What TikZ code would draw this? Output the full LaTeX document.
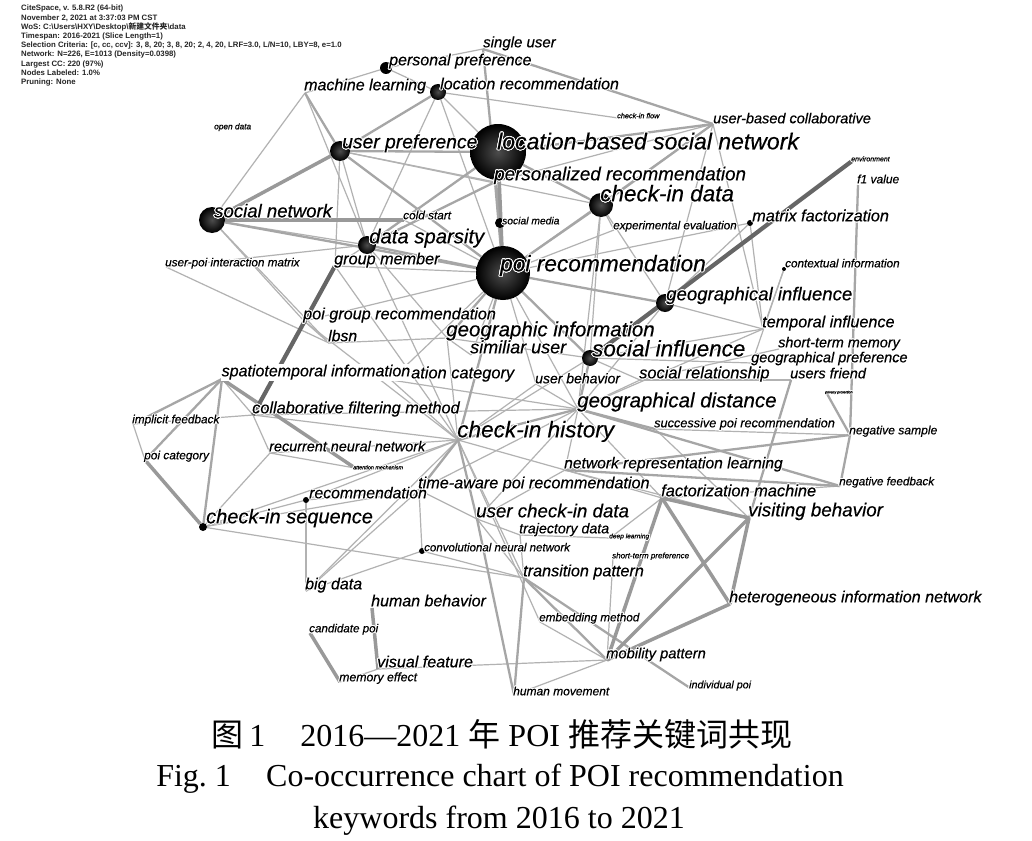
\documentclass[tikz,border=0pt]{standalone}
\usepackage{fontspec}
\setmainfont{Liberation Serif}
\newfontfamily\kwfont{Liberation Sans}[ItalicFeatures={FakeBold=0.4}]
\newfontfamily\cjk{Noto Sans CJK SC}
\usepackage[copies]{contour}
\contourlength{0.9pt}
\usetikzlibrary{backgrounds}
\newcommand{\halo}[1]{\contour{white}{#1}}

\tikzset{
  kw/.style={font=\kwfont\itshape\fontsize{#1}{#1}\selectfont, anchor=mid west, inner sep=0pt, text=black},
  kw/.default=16,
  dot/.style={circle, fill=black, minimum size=#1, inner sep=0pt},
  big/.style={circle, inner color=black!70, outer color=black, minimum size=#1, inner sep=0pt},
  lk/.style={draw=black!30, line width=1.2pt},
  lkm/.style={draw=black!35, line width=2.3pt},
  lkt/.style={draw=black!40, line width=3.5pt},
  lkd/.style={draw=black!60, line width=4.2pt},
  hdr/.style={font=\kwfont\bfseries\fontsize{7.8}{9.2}\selectfont, align=left, inner sep=0pt, text=black!85},
  captxt/.style={font=\fontsize{32}{32}\selectfont, inner sep=0pt}
}

\begin{document}
\begin{tikzpicture}[x=1pt, y=-1pt]
  \useasboundingbox (0,0) rectangle (1032,840);

  % header of the map
  \node[hdr, anchor=north west] (hdr) at (21,5) {CiteSpace, v. 5.8.R2 (64-bit)\\
    November 2, 2021 at 3:37:03 PM CST\\
    WoS: C:\textbackslash Users\textbackslash HXY\textbackslash Desktop\textbackslash{\cjk 新建文件夹}\textbackslash data\\
    Timespan: 2016-2021 (Slice Length=1)\\
    Selection Criteria: [c, cc, ccv]: 3, 8, 20; 3, 8, 20; 2, 4, 20, LRF=3.0, L/N=10, LBY=8, e=1.0\\
    Network: N=226, E=1013 (Density=0.0398)\\
    Largest CC: 220 (97\%)\\
    Nodes Labeled: 1.0\%\\
    Pruning: None};

  % keyword circles
  \node[big=56pt] (lbsn) at (498,152) {};
  \node[big=54pt] (poi) at (503,273) {};
  \node[big=24pt] (cid) at (601,205) {};
  \node[big=26pt] (sn) at (212,220) {};
  \node[big=20pt] (upref) at (340,151) {};
  \node[big=18pt] (ds) at (367,245) {};
  \node[big=18pt] (gi) at (665,303) {};
  \node[big=16pt] (si) at (590,358) {};
  \node[big=16pt] (locrec) at (438,92) {};
  \node[dot=12pt] (pers) at (386,68) {};
  \node[dot=10pt] (smed) at (500,223) {};
  \node[dot=8pt] (cis) at (203,527) {};
  \node[dot=6pt] (rec) at (306,500) {};
  \node[dot=6pt] (cnn) at (422,551) {};
  \node[dot=6pt] (mf) at (750,223) {};
  \node[dot=4pt] (ctx) at (784,269) {};

  % keywords without visible circle
  \coordinate (sgl) at (483,49);
  \coordinate (ml) at (305,93);
  \coordinate (flow) at (618,118);
  \coordinate (ubc) at (713,124);
  \coordinate (open) at (215,130);
  \coordinate (env) at (852,161);
  \coordinate (prec) at (495,182);
  \coordinate (f1) at (858,185);
  \coordinate (cold) at (404,220);
  \coordinate (eval) at (614,230);
  \coordinate (gm) at (335,266);
  \coordinate (uim) at (166,267);
  \coordinate (pgr) at (304,321);
  \coordinate (ti) at (763,329);
  \coordinate (ginfo) at (447,338);
  \coordinate (lbsnk) at (329,343);
  \coordinate (stm) at (779,349);
  \coordinate (simu) at (471,355);
  \coordinate (gpref) at (752,363);
  \coordinate (sti) at (222,379);
  \coordinate (lcat) at (391,380);
  \coordinate (ub) at (536,384);
  \coordinate (srel) at (640,380);
  \coordinate (uf) at (791,380);
  \coordinate (prv) at (826,392);
  \coordinate (gd) at (578,409);
  \coordinate (cfm) at (253,415);
  \coordinate (impf) at (133,424);
  \coordinate (spr) at (655,429);
  \coordinate (negs) at (850,435);
  \coordinate (cih) at (458,440);
  \coordinate (rnn) at (270,453);
  \coordinate (pcat) at (145,460);
  \coordinate (att) at (355,468);
  \coordinate (nrl) at (565,470);
  \coordinate (negf) at (840,486);
  \coordinate (taw) at (419,490);
  \coordinate (fm) at (662,498);
  \coordinate (ucid) at (477,519);
  \coordinate (vb) at (749,518);
  \coordinate (traj) at (520,535);
  \coordinate (dl) at (610,538);
  \coordinate (stp) at (613,558);
  \coordinate (tp) at (524,578);
  \coordinate (bd) at (306,591);
  \coordinate (hin) at (730,604);
  \coordinate (hb) at (372,608);
  \coordinate (emb) at (540,622);
  \coordinate (cand) at (310,633);
  \coordinate (mob) at (607,660);
  \coordinate (vf) at (378,669);
  \coordinate (mem) at (340,682);
  \coordinate (ipoi) at (690,688);
  \coordinate (hm) at (514,695);

  % labels
  \node[kw=15] (sgl-t) at (483,45) {\halo{single user}};
  \node[kw=16] (pers-t) at (389,63) {\halo{personal preference}};
  \node[kw=16] (ml-t) at (304,88) {\halo{machine learning}};
  \node[kw=16] (locrec-t) at (440,87) {\halo{location recommendation}};
  \node[kw=7.3] (flow-t) at (617,116) {\halo{check-in flow}};
  \node[kw=14.5] (ubc-t) at (713,121) {\halo{user-based collaborative}};
  \node[kw=8.3] (open-t) at (214,127) {\halo{open data}};
  \node[kw=19.3] (upref-t) at (342,146) {\halo{user preference}};
  \node[kw=23] (lbsn-t) at (497,147) {\halo{location-based social network}};
  \node[kw=7] (env-t) at (851,159) {\halo{environment}};
  \node[kw=18.8] (prec-t) at (494,178) {\halo{personalized recommendation}};
  \node[kw=12] (f1-t) at (857,181) {\halo{f1 value}};
  \node[kw=22.5] (cid-t) at (600,199) {\halo{check-in data}};
  \node[kw=18.6] (sn-t) at (214,215) {\halo{social network}};
  \node[kw=11.8] (cold-t) at (403,217) {\halo{cold start}};
  \node[kw=10.3] (smed-t) at (502,222) {\halo{social media}};
  \node[kw=16.3] (mf-t) at (752,219) {\halo{matrix factorization}};
  \node[kw=11.7] (eval-t) at (613,227) {\halo{experimental evaluation}};
  \node[kw=20.3] (ds-t) at (369,241) {\halo{data sparsity}};
  \node[kw=16.2] (gm-t) at (334,262) {\halo{group member}};
  \node[kw=11.7] (uim-t) at (165,264) {\halo{user-poi interaction matrix}};
  \node[kw=22.7] (poi-t) at (500,269) {\halo{poi recommendation}};
  \node[kw=11.7] (ctx-t) at (785,265) {\halo{contextual information}};
  \node[kw=18.6] (gi-t) at (666,298) {\halo{geographical influence}};
  \node[kw=16.2] (pgr-t) at (303,317) {\halo{poi group recommendation}};
  \node[kw=16.2] (ti-t) at (762,325) {\halo{temporal influence}};
  \node[kw=20.5] (ginfo-t) at (446,334) {\halo{geographic information}};
  \node[kw=15.8] (lbsnk-t) at (328,339) {\halo{lbsn}};
  \node[kw=14.4] (stm-t) at (778,345) {\halo{short-term memory}};
  \node[kw=18] (simu-t) at (470,351) {\halo{similiar user}};
  \node[kw=22.4] (si-t) at (592,354) {\halo{social influence}};
  \node[kw=14.5] (gpref-t) at (751,360) {\halo{geographical preference}};
  \node[kw=16.4] (lcat-t) at (390,376) {\halo{location category}};
  \node[kw=16, fill=white, inner sep=0.5pt] (sti-t) at (221,374) {\halo{spatiotemporal information}};
  \node[kw=14] (ub-t) at (535,381) {\halo{user behavior}};
  \node[kw=16.4] (srel-t) at (639,376) {\halo{social relationship}};
  \node[kw=14.5] (uf-t) at (790,376) {\halo{users friend}};
  \node[kw=3.5] (prv-t) at (825,391) {\halo{privacy protection}};
  \node[kw=20.5] (gd-t) at (577,405) {\halo{geographical distance}};
  \node[kw=16.3] (cfm-t) at (252,411) {\halo{collaborative filtering method}};
  \node[kw=11.8] (impf-t) at (132,421) {\halo{implicit feedback}};
  \node[kw=12.7] (spr-t) at (654,425) {\halo{successive poi recommendation}};
  \node[kw=12.1] (negs-t) at (849,432) {\halo{negative sample}};
  \node[kw=22.6] (cih-t) at (457,435) {\halo{check-in history}};
  \node[kw=14.4] (rnn-t) at (269,449) {\halo{recurrent neural network}};
  \node[kw=11.9] (pcat-t) at (144,457) {\halo{poi category}};
  \node[kw=5.4] (att-t) at (353,467) {\halo{attention mechanism}};
  \node[kw=15.6] (nrl-t) at (564,466) {\halo{network representation learning}};
  \node[kw=11.7] (negf-t) at (839,483) {\halo{negative feedback}};
  \node[kw=16.2] (taw-t) at (418,486) {\halo{time-aware poi recommendation}};
  \node[kw=15.8] (rec-t) at (309,496) {\halo{recommendation}};
  \node[kw=16.4] (fm-t) at (661,494) {\halo{factorization machine}};
  \node[kw=20] (cis-t) at (206,521) {\halo{check-in sequence}};
  \node[kw=18.7] (ucid-t) at (476,515) {\halo{user check-in data}};
  \node[kw=18.8] (vb-t) at (748,514) {\halo{visiting behavior}};
  \node[kw=14.2] (traj-t) at (519,531) {\halo{trajectory data}};
  \node[kw=6.6] (dl-t) at (609,536) {\halo{deep learning}};
  \node[kw=11.5] (cnn-t) at (424,549) {\halo{convolutional neural network}};
  \node[kw=8] (stp-t) at (612,556) {\halo{short-term preference}};
  \node[kw=16.2] (tp-t) at (523,574) {\halo{transition pattern}};
  \node[kw=16] (bd-t) at (305,587) {\halo{big data}};
  \node[kw=16.1] (hin-t) at (729,600) {\halo{heterogeneous information network}};
  \node[kw=16] (hb-t) at (371,604) {\halo{human behavior}};
  \node[kw=11.7] (emb-t) at (539,619) {\halo{embedding method}};
  \node[kw=11.6] (cand-t) at (309,630) {\halo{candidate poi}};
  \node[kw=14.7] (mob-t) at (606,656) {\halo{mobility pattern}};
  \node[kw=16.1] (vf-t) at (377,665) {\halo{visual feature}};
  \node[kw=12.3] (mem-t) at (339,679) {\halo{memory effect}};
  \node[kw=10.7] (ipoi-t) at (689,686) {\halo{individual poi}};
  \node[kw=12] (hm-t) at (513,693) {\halo{human movement}};

  % caption
  \node[captxt] (cap1) at (502,734) {{\cjk 图}\,1\hspace{1.1em}2016—2021 {\cjk 年} POI {\cjk 推荐关键词共现}};
  \node[captxt] (cap2) at (500,779) {Fig.~1\hspace{1.1em}Co-occurrence chart of POI recommendation};
  \node[captxt] (cap3) at (499,821) {keywords from 2016 to 2021};

  % co-occurrence links
  \begin{pgfonlayer}{background}
    \fill[white] (0,0) rectangle (1032,840);
    \foreach \a/\b in {ml/sn, ml/pers, ml/ds, pers/sgl, pers/locrec, locrec/flow, locrec/lbsn,
        locrec/ds, locrec/poi, upref/ds, upref/prec, upref/gm, upref/cid, ubc/poi, ubc/gi,
        ubc/ti, ubc/prec, sn/ds, sn/lbsnk, sn/pgr, cold/poi, ds/gm, ds/ginfo, ds/cih, gm/pgr,
        gm/poi, gm/cih, uim/ds, uim/lbsnk, poi/gd, poi/pgr, poi/simu, poi/ub, poi/lcat, poi/mf,
        poi/eval, cid/gi, cid/si, cid/eval, cid/gd, mf/ti, mf/gi, ctx/ti, ctx/gpref, gi/gd,
        gi/ti, ti/si, ti/gd, stm/srel, gpref/si, uf/srel, si/srel, si/ginfo, si/cih, ginfo/simu,
        ginfo/cih, ginfo/lbsnk, pgr/lbsnk, pgr/cih, sti/lcat, sti/cfm, impf/cfm, impf/pcat,
        cfm/cih, cfm/rnn, cfm/gd, lcat/cih, lcat/gd, ub/gd, ub/cih, srel/gd, gd/nrl, gd/taw,
        gd/ucid, gd/fm, spr/negs, fm/negf, cih/rnn, cih/cis, cih/rec, cih/bd, cih/emb, cih/tp,
        cih/nrl, rnn/cis, rnn/att, rec/cis, rec/taw, taw/bd, taw/ucid, taw/cnn, cis/tp,
        cis/taw, ucid/traj, ucid/tp, traj/dl, traj/tp, dl/fm, stp/mob, tp/cnn, emb/mob,
        mem/vf, vf/mob, hm/mob, bd/rec, bd/cnn, nrl/fm, nrl/vb, spr/vb, ucid/nrl}
      \draw[lk] (\a) -- (\b);
    \foreach \a/\b in {ml/upref, sgl/ubc, sgl/smed, locrec/upref, upref/lbsn, upref/poi,
        lbsn/ubc, lbsn/prec, lbsn/cid, ubc/cid, sn/poi, ds/poi, ds/lbsn, ds/prec, poi/cid,
        poi/gi, poi/ginfo, poi/cih, poi/si, poi/prec, poi/smed, gi/si, uf/vb, prv/negs, si/gd,
        sti/impf, sti/pcat, sti/cis, gd/cih, gd/spr, gd/negf, nrl/negs, nrl/negf, negs/negf,
        f1/negs, cih/taw, cih/ucid, ucid/hm, tp/ipoi, tp/mob, tp/hm}
      \draw[lkm] (\a) -- (\b);
    \foreach \a/\b in {upref/sn, lbsn/poi, sn/cold, sti/att, pcat/cis, fm/vb, fm/hin, fm/mob,
        vb/hin, vb/mob, hin/mob, hb/vf, cand/mem}
      \draw[lkt] (\a) -- (\b);
    \foreach \a/\b in {env/si, gm/cfm}
      \draw[lkd] (\a) -- (\b);
  \end{pgfonlayer}
\end{tikzpicture}
\end{document}
